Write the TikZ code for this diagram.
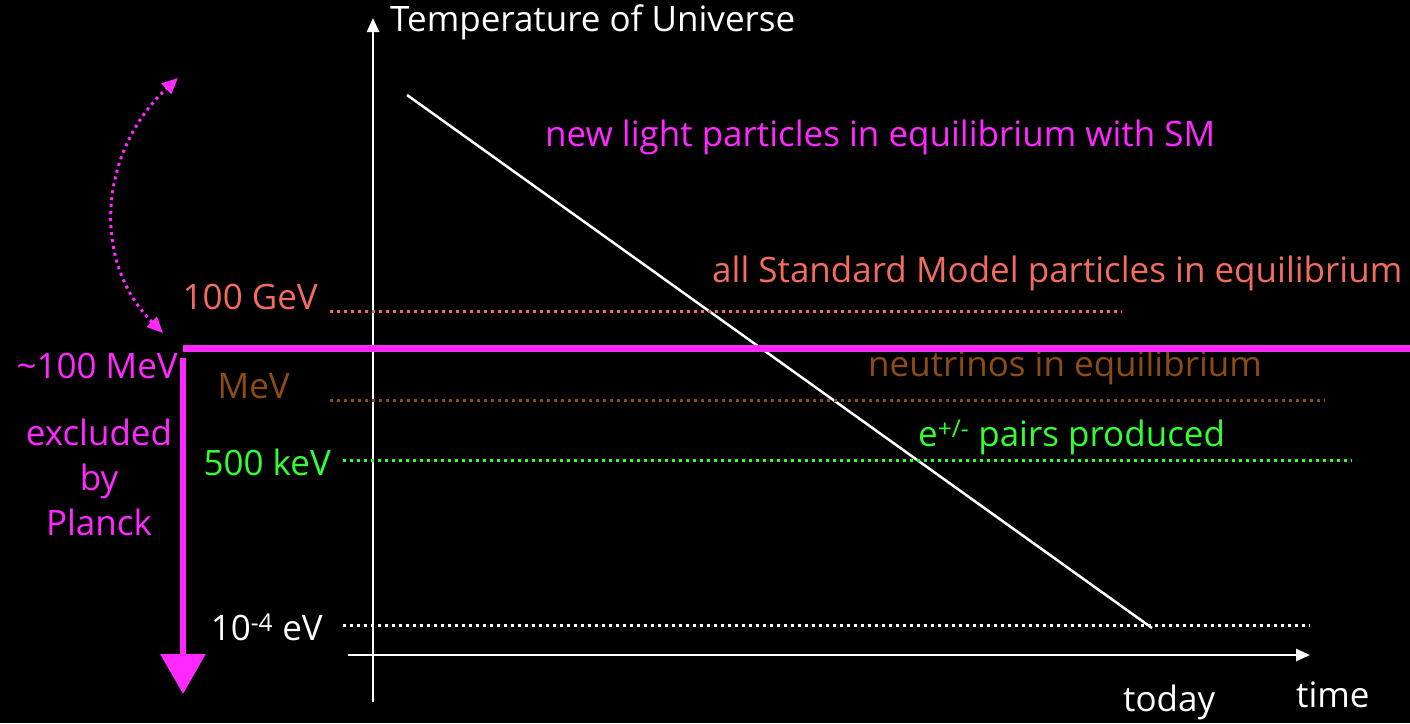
\documentclass[tikz,border=0pt]{standalone}
\usepackage{fontspec}
\setmainfont{Open Sans}
\usetikzlibrary{arrows.meta,positioning}
\definecolor{planck}{RGB}{255,40,255}
\definecolor{smred}{RGB}{242,108,96}
\definecolor{nubrown}{RGB}{140,76,18}
\definecolor{eegreen}{RGB}{50,255,50}

\tikzset{
  level/.style={line width=3pt, dash pattern=on 3pt off 4pt},
  axis/.style={white, line width=2.5pt, -{Triangle[length=14pt,width=12pt]}},
  big/.style={font=\fontsize{35}{40}\selectfont}
}

\begin{document}
\begin{tikzpicture}[x=1pt, y=-1pt, every node/.style={big, inner sep=0pt}]
        \fill[black] (0,0) rectangle (1410,723);
        \useasboundingbox (0,0) rectangle (1410,723);

        % Axes
        \coordinate (tbot) at (373,702);
        \coordinate (ttop) at (373,18);
        \coordinate (tleft) at (348,655);
        \coordinate (tright) at (1310,655);
        \draw[axis] (tbot) -- (ttop);
        \draw[axis] (tleft) -- (tright);
        \node[white, anchor=west] (temp) at (390,22) {Temperature of Universe};
        \node[white, anchor=west] (time) at (1296,695) {time};
        \node[white, anchor=west] (today) at (1123,702) {today};

        % Cooling line
        \coordinate (hot) at (407,95);
        \coordinate (now) at (1152,628);
        \draw[white, line width=2.5pt] (hot) -- (now);

        % Levels
        \node[smred, anchor=east] (gev) at (318,297) {100 GeV};
        \draw[level, smred] (330,311) -- (1122,311);
        \node[nubrown, anchor=east] (mev) at (290,386) {MeV};
        \draw[level, nubrown] (330,400) -- (1325,400);
        \node[eegreen, anchor=east] (kev) at (331,462) {500 keV};
        \draw[level, eegreen] (343,460) -- (1352,460);
        \node[white, anchor=east] (ev) at (323,627) {10\textsuperscript{-4} eV};
        \draw[level, white] (343,625) -- (1310,625);

        % Era labels
        \node[planck, anchor=west] (newlight) at (545,137) {new light particles in equilibrium with SM};
        \node[smred, anchor=west] (allsm) at (712,273) {all Standard Model particles in equilibrium};
        \node[nubrown, anchor=west] (nus) at (868,367) {neutrinos in equilibrium};
        \node[eegreen, anchor=west] (pairs) at (918,437) {e\textsuperscript{+/-} pairs produced};

        % Planck bound
        \coordinate (cutL) at (183,348);
        \coordinate (cutR) at (1410,348);
        \draw[planck, line width=7pt] (cutL) -- (cutR);
        \node[planck, anchor=east] (cut) at (178,366) {\textasciitilde100 MeV};
        \coordinate (excl) at (183,358);
        \coordinate (exclEnd) at (183,694);
        \draw[planck, line width=6pt, -{Triangle[length=40pt,width=44pt]}] (excl) -- (exclEnd);
        \node[planck, align=center, font=\fontsize{35}{45}\selectfont] (planckbox) at (99,477) {excluded\\by\\Planck};
        \coordinate (swingA) at (163,333);
        \coordinate (swingB) at (178,78);
        \draw[planck, line width=3pt, dash pattern=on 3pt off 4pt,
              {Triangle[length=16pt,width=14pt]}-{Triangle[length=16pt,width=14pt]}]
              (swingA) .. controls (90,260) and (100,150) .. (swingB);
    \end{tikzpicture}
\end{document}
